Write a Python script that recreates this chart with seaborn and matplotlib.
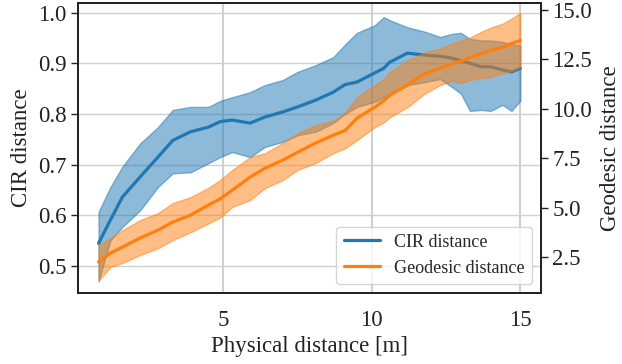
import matplotlib
matplotlib.use("Agg")
import matplotlib.pyplot as plt
import pandas as pd
import seaborn as sns

# physical distance [m]
dist = [0.8, 1.2, 1.6, 2.2, 2.8, 3.3, 3.9, 4.5, 4.9, 5.3, 5.9, 6.4, 7.0, 7.5, 8.1, 8.7,
        9.1, 9.5, 10.1, 10.4, 10.6, 11.2, 11.8, 12.3, 12.7, 13.0, 13.3, 13.7, 14.0, 14.4, 14.7, 15.0]

# CIR distance (left axis)
cir_mean = [.545, .591, .636, .676, .715, .748, .765, .774, .785, .788, .782, .794, .804, .814, .827, .843,
            .858, .863, .881, .890, .902, .920, .916, .914, .910, .905, .900, .893, .893, .887, .883, .890]
cir_hi = [.607, .656, .696, .742, .774, .808, .814, .814, .826, .833, .843, .857, .867, .883, .896, .912,
          .937, .960, .975, .991, .985, .971, .962, .952, .958, .960, .948, .945, .945, .942, .938, .935]
cir_lo = [.470, .551, .577, .610, .656, .683, .685, .703, .715, .725, .715, .735, .745, .758, .765, .782,
          .800, .814, .824, .833, .841, .857, .863, .869, .853, .840, .806, .808, .806, .818, .806, .826]

# geodesic distance (right axis)
geo_mean = [2.25, 2.7, 3.0, 3.46, 3.86, 4.27, 4.62, 5.13, 5.45, 5.88, 6.54, 6.99, 7.4, 7.8, 8.26, 8.66,
            8.9, 9.52, 10.08, 10.4, 10.68, 11.19, 11.79, 12.04, 12.3, 12.4, 12.6, 12.8, 12.95, 13.1, 13.3, 13.45]
geo_hi = [3.1, 3.46, 3.86, 4.37, 4.72, 5.23, 5.53, 6.0, 6.4, 6.9, 7.55, 7.75, 8.26, 8.76, 9.17, 9.4,
          9.8, 10.58, 11.19, 11.5, 11.84, 12.45, 12.85, 13.05, 13.3, 13.45, 13.6, 13.9, 14.1, 14.3, 14.55, 14.85]
geo_lo = [1.3, 2.0, 2.2, 2.6, 2.95, 3.36, 3.76, 4.2, 4.5, 5.03, 5.38, 5.98, 6.39, 6.9, 7.25, 7.75,
          8.0, 8.41, 9.07, 9.3, 9.57, 10.08, 10.78, 11.2, 11.4, 11.3, 11.45, 11.55, 11.6, 11.8, 11.9, 12.1]

df = pd.DataFrame({"dist": dist, "cir": cir_mean, "geo": geo_mean})

sns.set_theme(style="whitegrid")
plt.rcParams["font.family"] = ["Liberation Serif", "DejaVu Serif"]
plt.rcParams["axes.edgecolor"] = "#222222"
plt.rcParams["axes.linewidth"] = 1.3
plt.rcParams["grid.color"] = "#d0d0d0"

blue = "#1f77b4"
orange = "#ff7f0e"
fs = 16.5

fig = plt.figure(figsize=(6.22, 3.64), dpi=100)
ax = fig.add_axes([0.125, 0.195, 0.745, 0.797])
ax2 = ax.twinx()

ax.fill_between(dist, cir_lo, cir_hi, color=blue, alpha=0.5, lw=1)
sns.lineplot(data=df, x="dist", y="cir", ax=ax, color=blue, lw=2.3, label="CIR distance", legend=False)
ax2.fill_between(dist, geo_lo, geo_hi, color=orange, alpha=0.5, lw=1)
sns.lineplot(data=df, x="dist", y="geo", ax=ax2, color=orange, lw=2.3, label="Geodesic distance", legend=False)

ax.set_xlim(0.1, 15.7)
ax.set_ylim(0.447, 1.019)
ax2.set_ylim(0.68, 15.35)
ax.set_xticks([5, 10, 15])
ax.set_yticks([0.5, 0.6, 0.7, 0.8, 0.9, 1.0])
ax2.set_yticks([2.5, 5.0, 7.5, 10.0, 12.5, 15.0])

ax.grid(True, axis="y", lw=1)
ax.grid(True, axis="x", lw=1.5)
ax2.grid(False, axis="y")
ax2.grid(True, axis="x", lw=1.5, color="#c8c8c8")

ax.tick_params(axis="y", left=True, length=5, width=1, labelsize=fs, colors="#222222", pad=3)
ax.tick_params(axis="x", bottom=False, labelsize=fs, colors="#222222", pad=6)
ax2.tick_params(axis="y", right=True, length=5, width=1, labelsize=fs, colors="#222222", pad=3)

ax.set_xlabel("Physical distance [m]", fontsize=fs, color="#222222", labelpad=4)
ax.set_ylabel("CIR distance", fontsize=fs, color="#222222", labelpad=4)
ax2.set_ylabel("Geodesic distance", fontsize=fs, color="#222222", labelpad=6)

h1, l1 = ax.get_legend_handles_labels()
h2, l2 = ax2.get_legend_handles_labels()
ax2.legend(h1 + h2, l1 + l2, loc="lower right", fontsize=13, frameon=True)

fig.savefig("out.png", dpi=100)
